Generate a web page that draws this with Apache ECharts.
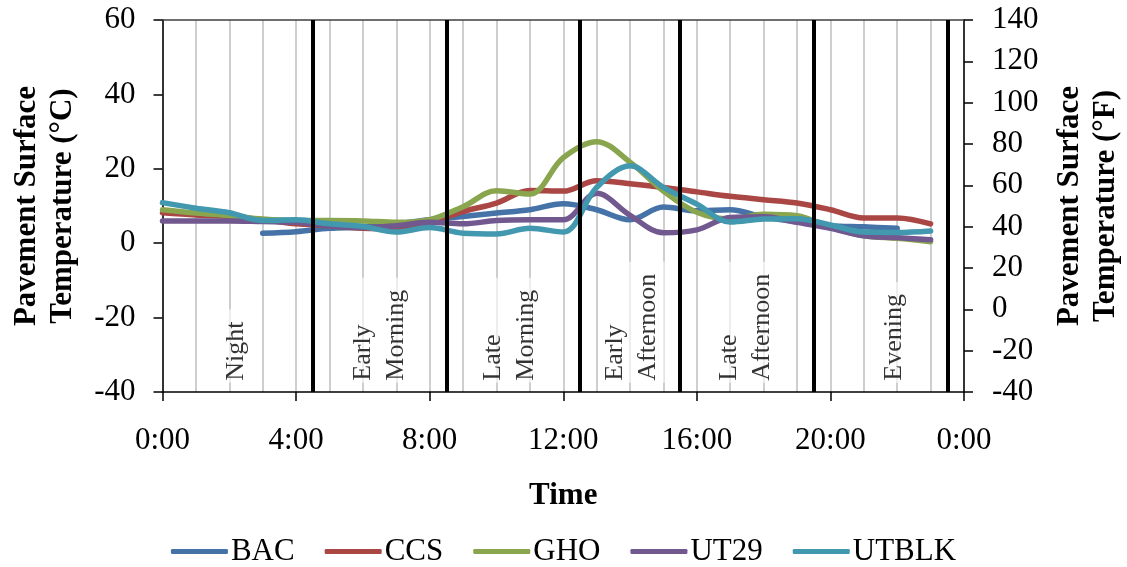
<!DOCTYPE html>
<html>
<head>
<meta charset="utf-8">
<script src="https://cdn.jsdelivr.net/npm/echarts@6/dist/echarts.min.js"></script>
<style>
  html, body { margin: 0; padding: 0; background: #ffffff; }
  #chart { width: 1127px; height: 567px; }
</style>
</head>
<body>
<div id="chart"></div>
<script>
// Hourly pavement surface temperatures (°C), hour of day 0..23
const hours = [0,1,2,3,4,5,6,7,8,9,10,11,12,13,14,15,16,17,18,19,20,21,22,23];
const BAC   = [null,null,null,2.7,3.1,4.0,4.3,5.2,6.3,7.2,8.1,9.0,10.6,9.0,6.3,9.7,8.7,9.0,7.0,5.8,4.7,4.4,4.0,null];
const CCS   = [8.2,7.6,7.2,6.3,5.2,4.7,4.0,3.9,5.6,8.5,10.8,14.2,14.0,16.8,16.0,15.0,13.8,12.6,11.7,10.8,9.0,6.8,6.8,5.2];
const GHO   = [9.0,8.1,7.4,6.5,6.1,6.1,6.0,5.6,6.3,9.8,14.1,13.2,23.0,27.3,21.8,14.0,8.3,6.5,7.8,7.4,4.3,2.0,1.3,0.4];
const UT29  = [6.0,6.0,6.0,5.8,5.6,4.7,4.2,4.7,5.6,5.2,6.1,6.3,6.3,13.4,7.5,2.8,3.6,6.9,7.1,5.6,4.0,2.0,1.5,0.9];
const UTBLK = [10.9,9.4,8.2,6.1,6.3,5.2,4.5,3.0,4.2,2.7,2.5,4.0,3.0,15.0,20.8,15.0,10.5,5.7,6.5,6.6,4.9,3.0,2.9,3.3];

const seriesNames  = ['BAC','CCS','GHO','UT29','UTBLK'];
const seriesValues = [BAC, CCS, GHO, UT29, UTBLK];
const seriesColors = ['#4572A7','#AA4643','#89A54E','#71588F','#4198AF'];

// Period boundaries (hour) and period labels
const periodBounds = [4.5, 8.5, 12.5, 15.5, 19.5, 23.5];
const periodLabels = ['Night', 'Early\nMorning', 'Late\nMorning', 'Early\nAfternoon', 'Late\nAfternoon', 'Evening'];
const periodLabelHours = [2.2, 6.5, 10.4, 14.05, 17.45, 21.9];
const periodLabelBase = -37.5;

// Axis ticks
const timeLabels = ['0:00','4:00','8:00','12:00','16:00','20:00','0:00'];
const celsiusRange = [-40, 60];
const fahrenheitRange = [-40, 140];

const FONT = "'Liberation Serif', 'Times New Roman', serif";

const chart = echarts.init(document.getElementById('chart'), null, { renderer: 'canvas' });

const lineSeries = seriesNames.map((name, i) => ({
  name: name,
  type: 'line',
  xAxisIndex: 0,
  yAxisIndex: 0,
  z: 3,
  smooth: 0.35,
  symbol: 'none',
  showSymbol: false,
  connectNulls: false,
  color: seriesColors[i],
  lineStyle: { width: 5.5, color: seriesColors[i], cap: 'round', join: 'round' },
  data: hours.map((h, k) => [h, seriesValues[i][k]])
}));

const option = {
  backgroundColor: '#ffffff',
  animation: false,
  textStyle: { fontFamily: FONT, color: '#000' },
  grid: { left: 162.5, right: 163, top: 20, bottom: 175, containLabel: false, outerBoundsMode: 'none' },
  legend: {
    data: seriesNames.map(n => ({ name: n, icon: 'roundRect' })),
    left: 'center',
    top: 531,
    itemWidth: 57,
    itemHeight: 5,
    itemGap: 30,
    textStyle: { fontFamily: FONT, fontSize: 31, color: '#000', padding: [0, 0, 0, -2] }
  },
  xAxis: [
    {
      type: 'value',
      position: 'bottom',
      min: 0, max: 24, interval: 4,
      name: 'Time',
      nameLocation: 'middle',
      nameGap: 88,
      nameTextStyle: { fontFamily: FONT, fontSize: 31, fontWeight: 'bold', color: '#000' },
      axisLine: { show: true, onZero: false, lineStyle: { color: '#000', width: 1.5 } },
      axisTick: { show: true, length: 9, lineStyle: { color: '#000', width: 1.5 } },
      axisLabel: {
        fontFamily: FONT, fontSize: 31, color: '#000', margin: 33,
        formatter: v => timeLabels[Math.round(v / 4)]
      },
      splitLine: { show: true, lineStyle: { color: '#bfbfbf', width: 1.5 } },
      minorTick: { show: false, splitNumber: 4 },
      minorSplitLine: { show: true, lineStyle: { color: '#bfbfbf', width: 1.5 } }
    },
    {
      type: 'value',
      position: 'top',
      min: 0, max: 24, interval: 4,
      axisLine: { show: true, onZero: false, lineStyle: { color: '#404040', width: 1.5 } },
      axisTick: { show: false },
      axisLabel: { show: false },
      splitLine: { show: false }
    }
  ],
  yAxis: [
    {
      type: 'value',
      position: 'left',
      min: celsiusRange[0], max: celsiusRange[1], interval: 20,
      name: 'Pavement Surface\nTemperature (°C)',
      nameLocation: 'middle',
      nameGap: 82,
      nameTextStyle: { fontFamily: FONT, fontSize: 31, fontWeight: 'bold', color: '#000', lineHeight: 36 },
      axisLine: { show: true, onZero: false, lineStyle: { color: '#000', width: 1.5 } },
      axisTick: { show: true, length: 9, lineStyle: { color: '#000', width: 1.5 } },
      axisLabel: { fontFamily: FONT, fontSize: 31, color: '#000', margin: 27 },
      splitLine: { show: false }
    },
    {
      type: 'value',
      position: 'right',
      min: fahrenheitRange[0], max: fahrenheitRange[1], interval: 20,
      name: 'Pavement Surface\nTemperature (°F)',
      nameLocation: 'middle',
      nameGap: 88,
      nameTextStyle: { fontFamily: FONT, fontSize: 31, fontWeight: 'bold', color: '#000', lineHeight: 36 },
      axisLine: { show: true, onZero: false, lineStyle: { color: '#000', width: 1.5 } },
      axisTick: { show: true, length: 9, lineStyle: { color: '#000', width: 1.5 } },
      axisLabel: { fontFamily: FONT, fontSize: 31, color: '#000', margin: 28 },
      splitLine: { show: false }
    }
  ],
  series: [
    // Period boundary lines
    {
      type: 'line',
      xAxisIndex: 0,
      yAxisIndex: 0,
      z: 1,
      data: [],
      silent: true,
      markLine: {
        silent: true,
        symbol: ['none', 'none'],
        label: { show: false },
        lineStyle: { color: '#000', width: 4, type: 'solid' },
        data: periodBounds.map(b => ({ xAxis: b }))
      }
    },
    // Period names, written upward from the bottom of the plot
    {
      type: 'scatter',
      xAxisIndex: 0,
      yAxisIndex: 0,
      z: 2,
      silent: true,
      symbolSize: 0,
      data: periodLabels.map((t, i) => [periodLabelHours[i], periodLabelBase, t]),
      label: {
        show: true,
        position: [0, 0],
        rotate: 90,
        align: 'left',
        verticalAlign: 'middle',
        fontFamily: FONT,
        fontSize: 26,
        lineHeight: 33,
        color: '#000',
        backgroundColor: 'rgba(255,255,255,0.8)',
        padding: [0, 12, 0, 2],
        formatter: p => p.data[2]
      }
    }
  ].concat(lineSeries)
};

chart.setOption(option);
</script>
</body>
</html>
